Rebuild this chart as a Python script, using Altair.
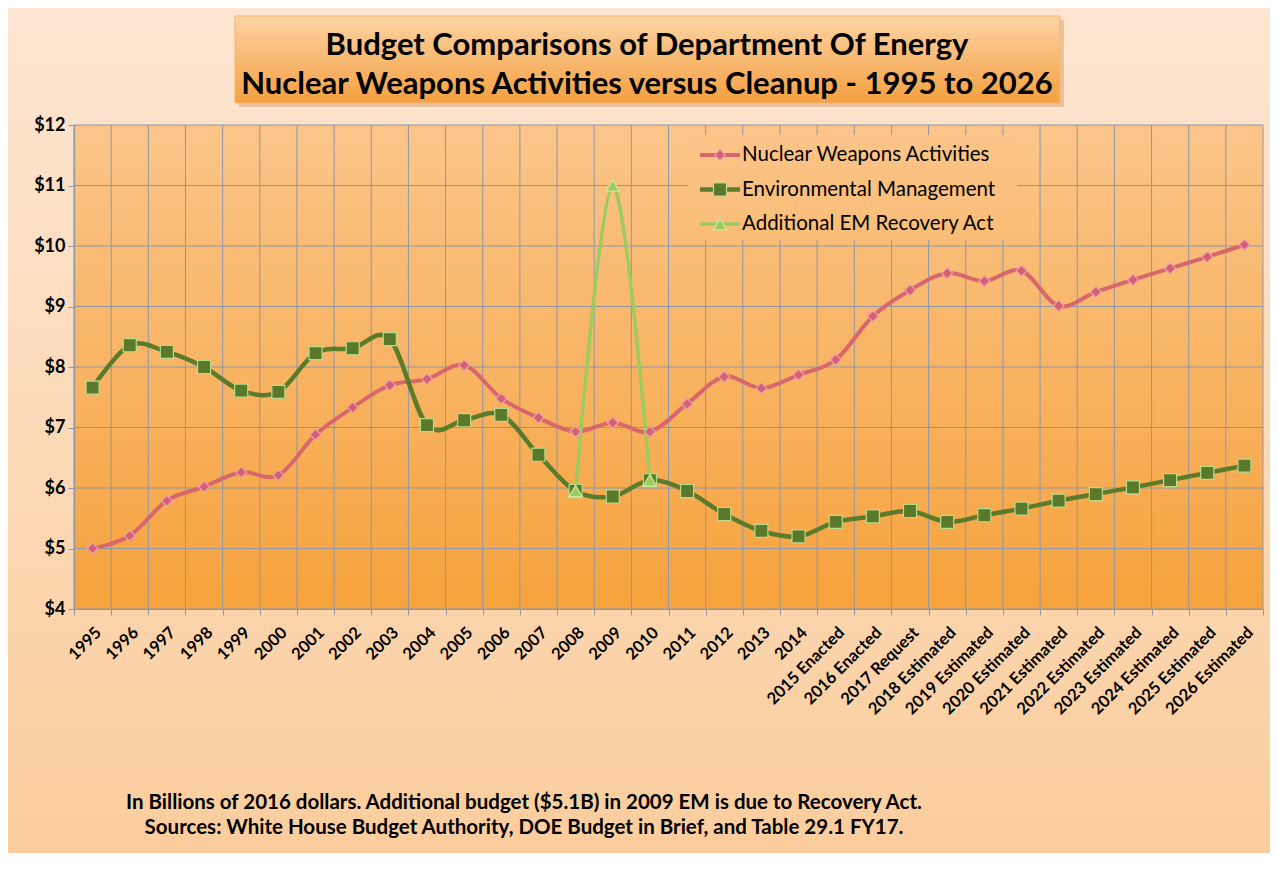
import altair as alt
import pandas as pd

# ---------------- data ----------------
years = ["1995", "1996", "1997", "1998", "1999", "2000", "2001", "2002", "2003", "2004",
         "2005", "2006", "2007", "2008", "2009", "2010", "2011", "2012", "2013", "2014",
         "2015 Enacted", "2016 Enacted", "2017 Request", "2018 Estimated", "2019 Estimated",
         "2020 Estimated", "2021 Estimated", "2022 Estimated", "2023 Estimated",
         "2024 Estimated", "2025 Estimated", "2026 Estimated"]

nuclear_weapons = [5.00, 5.21, 5.79, 6.02, 6.26, 6.21, 6.88, 7.33, 7.70, 7.80,
                   8.03, 7.48, 7.16, 6.93, 7.08, 6.93, 7.39, 7.84, 7.65, 7.87,
                   8.12, 8.84, 9.27, 9.55, 9.42, 9.59, 9.01, 9.24, 9.44, 9.63,
                   9.82, 10.02]

env_management = [7.66, 8.36, 8.25, 8.00, 7.61, 7.59, 8.23, 8.31, 8.46, 7.04,
                  7.12, 7.21, 6.55, 5.95, 5.86, 6.13, 5.95, 5.57, 5.29, 5.20,
                  5.44, 5.53, 5.62, 5.44, 5.55, 5.66, 5.79, 5.90, 6.01, 6.13,
                  6.25, 6.37]

recovery_act = [None] * 13 + [5.95, 11.0, 6.13] + [None] * 16

series_names = ["Nuclear Weapons Activities", "Environmental Management",
                "Additional EM Recovery Act"]

y_ticks = [4, 5, 6, 7, 8, 9, 10, 11, 12]

title_lines = ["Budget Comparisons of Department Of Energy",
               "Nuclear Weapons Activities versus Cleanup - 1995 to 2026"]
note_lines = ["In Billions of 2016 dollars. Additional budget ($5.1B) in 2009 EM is due to Recovery Act.",
              "Sources: White House Budget Authority, DOE Budget in Brief, and Table 29.1 FY17."]

# ---------------- layout / style ----------------
W, H = 1189, 484
PAD_L, PAD_T, PAD_R, PAD_B = 66, 117, 7, 244
FONT = "Lato"
GRID = "#8e97a8"

line_colors = ["#d7676c", "#5b7a2a", "#9dcb5e"]
marker_fill = ["#d65f74", "#5a792b", "#9dcb5e"]
marker_stroke = ["#eba2ae", "#b8dc8c", "#cde9a8"]
shapes = ["diamond", "square", "triangle-up"]
sizes = [120, 170, 170]
widths = [4, 4.5, 3.5]

PLOT_TOP = "#fbc58a"
PLOT_BOT = "#f6a23c"


def mix(c1, c2, t):
    a = [int(c1[i:i + 2], 16) for i in (1, 3, 5)]
    b = [int(c2[i:i + 2], 16) for i in (1, 3, 5)]
    return "#" + "".join(f"{round(x + (y - x) * t):02x}" for x, y in zip(a, b))


def vgrad(c_top, c_bot):
    return alt.LinearGradient(gradient="linear",
                              stops=[alt.GradientStop(color=c_top, offset=0),
                                     alt.GradientStop(color=c_bot, offset=1)],
                              x1=0, x2=0, y1=0, y2=1)


one = pd.DataFrame({"k": [0]})
xscale = alt.Scale(type="band", domain=years, paddingInner=0, paddingOuter=0)
yscale = alt.Scale(domain=[4, 12], nice=False, zero=False)

xaxis = alt.Axis(title=None, labelAngle=-45, tickBand="extent", grid=False,
                 domainColor=GRID, tickColor=GRID, tickSize=6, domainWidth=1.2,
                 labelFont=FONT, labelFontWeight="bold", labelFontSize=16.5,
                 labelColor="black", labelPadding=9, zindex=1, labelOverlap=False)
yaxis = alt.Axis(title=None, values=y_ticks, labelExpr="'$' + datum.value", grid=False,
                 domainColor=GRID, tickColor=GRID, tickSize=6, domainWidth=1.2,
                 labelFont=FONT, labelFontWeight="bold", labelFontSize=18,
                 labelColor="black", labelPadding=3, zindex=1)

X = alt.X("year:N", scale=xscale, axis=xaxis, sort=years, bandPosition=0.5)
Y = alt.Y("value:Q", scale=yscale, axis=yaxis)

layers = []

# outer background
layers.append(alt.Chart(one).mark_rect(fill=vgrad("#fde6d2", "#fbcd9d")).encode(
    x=alt.value(-PAD_L), x2=alt.value(W + PAD_R),
    y=alt.value(-PAD_T), y2=alt.value(H + PAD_B)))

# title box (shadow + box + text)
layers.append(alt.Chart(one).mark_rect(fill="#b46a2c", opacity=0.28).encode(
    x=alt.value(165), x2=alt.value(990), y=alt.value(-105), y2=alt.value(-18)))
layers.append(alt.Chart(one).mark_rect(fill=vgrad("#fcd3a5", "#f5a040"),
                                       stroke="#f8b46a", strokeWidth=1).encode(
    x=alt.value(161), x2=alt.value(986), y=alt.value(-109), y2=alt.value(-22)))
for i, t in enumerate(title_lines):
    layers.append(alt.Chart(one).mark_text(font=FONT, fontWeight="bold", fontSize=31,
                                           color="black", align="center", baseline="middle").encode(
        x=alt.value(573), y=alt.value(-79 + 39 * i), text=alt.value(t)))

# plot background
layers.append(alt.Chart(one).mark_rect(fill=vgrad(PLOT_TOP, PLOT_BOT)).encode(
    x=alt.value(0), x2=alt.value(W), y=alt.value(0), y2=alt.value(H)))

# grid lines
years_df = pd.DataFrame({"year": years})
layers.append(alt.Chart(years_df).mark_rule(color=GRID, strokeWidth=1).encode(
    x=alt.X("year:N", scale=xscale, axis=xaxis, sort=years, bandPosition=0)))
layers.append(alt.Chart(one).mark_rule(color=GRID, strokeWidth=1).encode(
    x=alt.value(W), y=alt.value(0), y2=alt.value(H)))
layers.append(alt.Chart(pd.DataFrame({"value": y_ticks})).mark_rule(color=GRID, strokeWidth=1).encode(
    y=Y))

# legend background (hides grid)
LX0, LX1, LY0, LY1 = 614, 943, 10, 115
layers.append(alt.Chart(one).mark_rect(
    fill=vgrad(mix(PLOT_TOP, PLOT_BOT, LY0 / H), mix(PLOT_TOP, PLOT_BOT, LY1 / H))).encode(
    x=alt.value(LX0), x2=alt.value(LX1), y=alt.value(LY0), y2=alt.value(LY1)))

# series
all_series = [nuclear_weapons, env_management, recovery_act]
for i, vals in enumerate(all_series):
    df = pd.DataFrame({"year": years, "value": vals}).dropna()
    layers.append(alt.Chart(df).mark_line(interpolate="cardinal", color=line_colors[i],
                                          strokeWidth=widths[i]).encode(x=X, y=Y))
for i, vals in enumerate(all_series):
    df = pd.DataFrame({"year": years, "value": vals}).dropna()
    layers.append(alt.Chart(df).mark_point(shape=shapes[i], filled=True, fill=marker_fill[i],
                                           stroke=marker_stroke[i], strokeWidth=1.2,
                                           size=sizes[i], opacity=1).encode(x=X, y=Y))

# legend
for i, name in enumerate(series_names):
    ly = 30 + 34.5 * i
    layers.append(alt.Chart(one).mark_rule(color=line_colors[i], strokeWidth=widths[i]).encode(
        x=alt.value(626), x2=alt.value(666), y=alt.value(ly)))
    layers.append(alt.Chart(one).mark_point(shape=shapes[i], filled=True, fill=marker_fill[i],
                                            stroke=marker_stroke[i], strokeWidth=1.2,
                                            size=sizes[i], opacity=1).encode(
        x=alt.value(646), y=alt.value(ly)))
    layers.append(alt.Chart(one).mark_text(font=FONT, fontSize=20.5, color="black",
                                           align="left", baseline="middle").encode(
        x=alt.value(668), y=alt.value(ly), text=alt.value(name)))

# footnote
for i, t in enumerate(note_lines):
    layers.append(alt.Chart(one).mark_text(font=FONT, fontWeight="bold", fontSize=20.5,
                                           color="black", align="center", baseline="middle").encode(
        x=alt.value(450), y=alt.value(678 + 25 * i), text=alt.value(t)))

chart = alt.layer(*layers).properties(
    width=W, height=H,
    autosize=alt.AutoSizeParams(type="none"),
    padding={"left": PAD_L, "top": PAD_T, "right": PAD_R, "bottom": PAD_B},
    background="#fcd9b8",
).configure_view(stroke=None)

chart.save("out.html", embed_options={"renderer": "svg", "actions": False})
